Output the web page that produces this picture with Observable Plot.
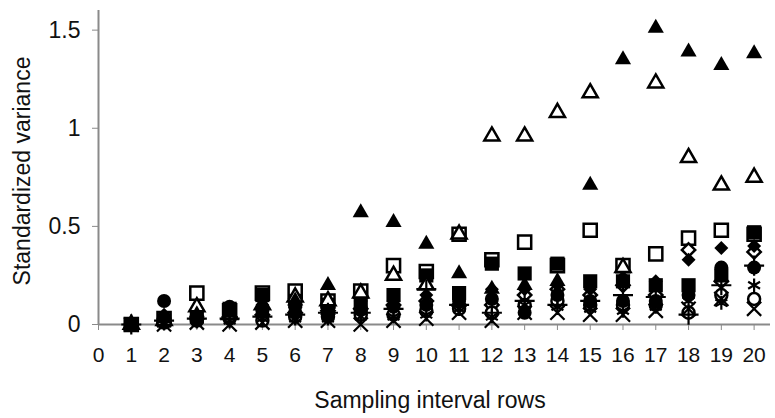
<!DOCTYPE html>
<html><head><meta charset="utf-8">
<script src="https://cdn.jsdelivr.net/npm/d3@7"></script>
<script src="https://cdn.jsdelivr.net/npm/@observablehq/plot@0.6"></script>
<style>
body{margin:0;background:#fff}
svg{font-family:"Liberation Sans",Arial,sans-serif}
</style>
</head><body><div id="chart"></div>
<script>
// Sampling interval (rows)
const intervals = [1,2,3,4,5,6,7,8,9,10,11,12,13,14,15,16,17,18,19,20];
const xTicks = [0,1,2,3,4,5,6,7,8,9,10,11,12,13,14,15,16,17,18,19,20];
const yTicks = [0,0.5,1,1.5];

// Standardized variance per series
const openSquare    = [0,0.03,0.16,0.07,0.16,0.17,0.12,0.17,0.30,0.27,0.46,0.33,0.42,0.30,0.48,0.30,0.36,0.44,0.48,0.46];
const openDiamond   = [0,0.02,0.03,0.04,0.05,0.06,0.07,0.08,0.10,0.12,0.10,0.10,0.15,0.18,0.15,0.20,0.15,0.38,0.22,0.37];
const openCircle    = [0,0.01,0.02,0.03,0.02,0.04,0.04,0.05,0.05,0.07,0.08,0.06,0.10,0.12,0.10,0.10,0.10,0.06,0.15,0.13];
const filledSquare  = [0,0.02,0.04,0.08,0.15,0.12,0.10,0.10,0.15,0.25,0.16,0.31,0.26,0.31,0.22,0.22,0.20,0.20,0.25,0.47];
const filledCircle  = [0,0.12,0.03,0.09,0.07,0.06,0.05,0.08,0.09,0.10,0.12,0.13,0.06,0.15,0.12,0.12,0.12,0.15,0.29,0.29];
const filledDiamond = [0,0.05,0.02,0.06,0.10,0.08,0.10,0.12,0.12,0.15,0.15,0.18,0.18,0.20,0.18,0.24,0.22,0.33,0.39,0.40];
const openTriangle  = [0,0.02,0.09,0.05,0.10,0.14,0.12,0.16,0.25,0.20,0.46,0.96,0.96,1.08,1.18,0.29,1.23,0.85,0.71,0.75];
const filledTriangle= [0,0.03,0.05,0.06,0.10,0.12,0.20,0.57,0.52,0.41,0.26,0.18,0.20,0.22,0.71,1.35,1.51,1.39,1.32,1.38];
const plusSeries    = [0,0.02,0.03,0.03,0.04,0.05,0.06,0.06,0.08,0.18,0.10,0.06,0.12,0.10,0.12,0.15,0.14,0.05,0.20,0.30];
const starSeries    = [0,0.01,0.02,0.02,0.03,0.03,0.03,0.04,0.04,0.05,0.08,0.04,0.10,0.09,0.08,0.07,0.09,0.12,0.11,0.20];
const crossSeries   = [0,0.00,0.01,0.00,0.01,0.02,0.02,0.00,0.02,0.03,0.06,0.02,0.06,0.06,0.05,0.05,0.07,0.08,0.13,0.08];

const seriesList = [
  {values: openSquare,    symbol: "square",   open: true,  r: 7.4},
  {values: openDiamond,   symbol: "diamond2", open: true,  r: 6},
  {values: openCircle,    symbol: "circle",   open: true,  r: 6},
  {values: filledSquare,  symbol: "square",   open: false, r: 8},
  {values: filledCircle,  symbol: "circle",   open: false, r: 7},
  {values: filledDiamond, symbol: "diamond2", open: false, r: 6.3},
  {values: openTriangle,  symbol: "triangle", open: true,  r: 5.6},
  {values: filledTriangle,symbol: "triangle", open: false, r: 6},
  {values: plusSeries,    symbol: "plus",     line: true,  r: 6.5},
  {values: starSeries,    symbol: "asterisk", line: true,  r: 6.5},
  {values: crossSeries,   symbol: "times",    line: true,  r: 6.5}
];

const axisColor = "#8a8a8a";
const marks = [
  Plot.ruleY([0], {stroke: axisColor, strokeWidth: 2}),
  Plot.ruleX([0], {stroke: axisColor, strokeWidth: 2}),
  Plot.axisY(yTicks, {ticks: yTicks, tickSize: 6, tickPadding: 12, stroke: axisColor, tickFormat: d => String(d), fontSize: 23, fill: "#111", label: null}),
  Plot.axisX(xTicks, {ticks: xTicks, tickSize: 6, tickPadding: 17, stroke: axisColor, tickFormat: d => String(d), fontSize: 21, fill: "#111", label: null})
];
for (const s of seriesList) {
  const rows = intervals.map((x, i) => ({x, y: s.values[i]}));
  marks.push(Plot.dot(rows, {
    x: "x", y: "y", symbol: () => s.symbol, r: s.r,
    fill: s.line ? "none" : (s.open ? "white" : "black"),
    stroke: "black",
    strokeWidth: s.line ? 2.2 : (s.open ? 2.5 : 0)
  }));
}

const chart = Plot.plot({
  width: 775, height: 418,
  marginLeft: 98, marginRight: 5, marginTop: 10, marginBottom: 94,
  x: {domain: [0, 20.5]},
  y: {domain: [0, 1.6]},
  symbol: {type: "identity"},
  style: {fontFamily: "'Liberation Sans', Arial, sans-serif", background: "white"},
  marks
});
document.getElementById("chart").appendChild(chart);
// axis titles as real text in the same svg
const svg = d3.select(chart);
svg.append("text").attr("x", 430).attr("y", 408).attr("text-anchor", "middle")
  .attr("font-size", 23).attr("fill", "#111").text("Sampling interval rows");
svg.append("text").attr("transform", "translate(30,171) rotate(-90)").attr("text-anchor", "middle")
  .attr("font-size", 23).attr("fill", "#111").text("Standardized variance");
</script>
</body></html>
